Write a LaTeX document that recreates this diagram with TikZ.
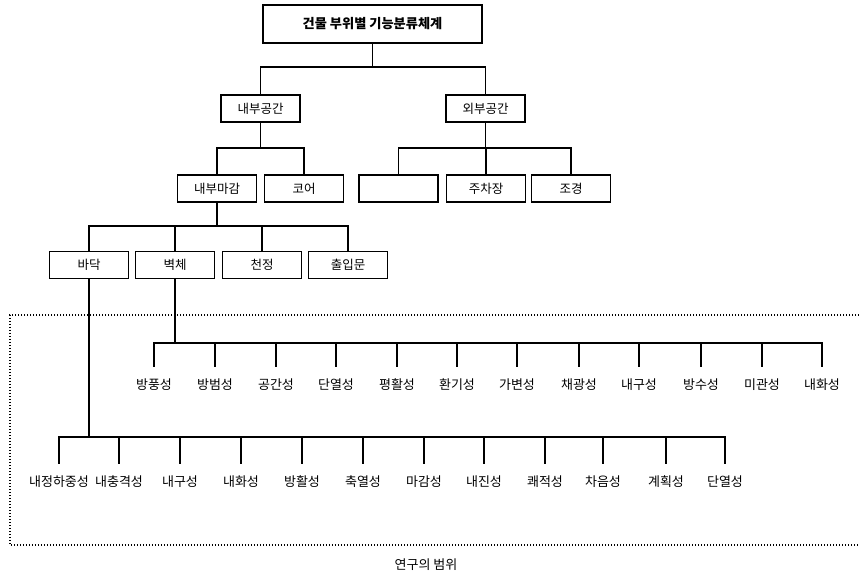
\documentclass[tikz,border=0pt]{standalone}
\usepackage{fontspec}
\setmainfont{Noto Sans CJK KR}
\begin{document}
\begin{tikzpicture}[x=1pt,y=-1pt,
  box/.style={draw,line width=1.8pt,minimum width=79pt,minimum height=27pt,inner sep=0pt,font=\fontsize{12.5}{14}\selectfont},
  topbox/.style={draw,line width=2.8pt,minimum width=219pt,minimum height=38pt,inner sep=0pt,font=\fontsize{13.2}{15}\selectfont\bfseries},
  lab/.style={minimum height=36pt,inner xsep=0pt,inner ysep=0pt,text height=9.5pt,text depth=1.5pt,font=\fontsize{13}{15}\selectfont},
  conn/.style={line width=1.8pt},
  scope/.style={line width=1.4pt,dash pattern=on 1.4pt off 1.6pt}]
\useasboundingbox (0,0) rectangle (859,580);
% boxes
\node[topbox] (top) at (372.5,24) {건물 부위별 기능분류체계};
\node[box] (nb) at (260.5,108.5) {내부공간};
\node[box] (wb) at (485.5,108.5) {외부공간};
\node[box] (nm) at (217,188.5) {내부마감};
\node[box] (core) at (304,188.5) {코어};
\node[box] (empty) at (398.5,188.5) {};
\node[box] (park) at (486,188.5) {주차장};
\node[box] (land) at (571,188.5) {조경};
\node[box] (floor) at (89,265) {바닥};
\node[box] (wall) at (175,265) {벽체};
\node[box] (ceil) at (262,265) {천정};
\node[box] (door) at (348,265) {출입문};
% junctions
\coordinate (j0) at (372.5,67);
\coordinate (j1) at (260.5,148);
\coordinate (j2) at (485.5,148);
\coordinate (j3) at (217,226);
\coordinate (ja) at (175,343);
\coordinate (jb) at (89,437);
\draw[conn] (top.south) -- (j0);
\draw[conn] (nb.north) |- (j0) -| (wb.north);
\draw[conn] (nb.south) -- (j1);
\draw[conn] (nm.north) |- (j1) -| (core.north);
\draw[conn] (wb.south) -- (j2);
\draw[conn] (empty.north) |- (j2) -| (land.north);
\draw[conn] (park.north) -- (park.north |- j2);
\draw[conn] (nm.south) -- (j3);
\draw[conn] (floor.north) |- (j3) -| (door.north);
\draw[conn] (wall.north) -- (wall.north |- j3);
\draw[conn] (ceil.north) -- (ceil.north |- j3);
% row A (wall)
\foreach \i/\x/\t in {1/154/방풍성,2/215/방범성,3/276/공간성,4/336/단열성,5/397/평활성,6/457/환기성,7/517/가변성,8/579/채광성,9/639/내구성,10/701/방수성,11/762/미관성,12/822/내화성}
  {\node[lab] (a\i) at (\x,385) {\t};}
\draw[conn] (wall.south) -- (ja);
\draw[conn] (a1.north) |- (ja) -| (a12.north);
\foreach \i in {2,...,11} {\draw[conn] (a\i.north) -- (a\i.north |- ja);}
% row B (floor)
\foreach \i/\x/\t in {1/59/내정하중성,2/119/내충격성,3/180/내구성,4/241/내화성,5/302/방활성,6/363/축열성,7/424/마감성,8/484/내진성,9/545/쾌적성,10/603/차음성,11/666/계획성,12/725/단열성}
  {\node[lab] (b\i) at (\x,482) {\t};}
\draw[conn] (floor.south) -- (jb);
\draw[conn] (b1.north) |- (jb) -| (b12.north);
\foreach \i in {2,...,11} {\draw[conn] (b\i.north) -- (b\i.north |- jb);}
% scope of study
\coordinate (s1) at (859,315);
\coordinate (s2) at (859,545);
\draw[scope] (s1) -- (10,315) -- (10,545) -- (s2);
\node[lab,minimum height=0pt] (range) at (426,565) {연구의 범위};
\end{tikzpicture}
\end{document}
